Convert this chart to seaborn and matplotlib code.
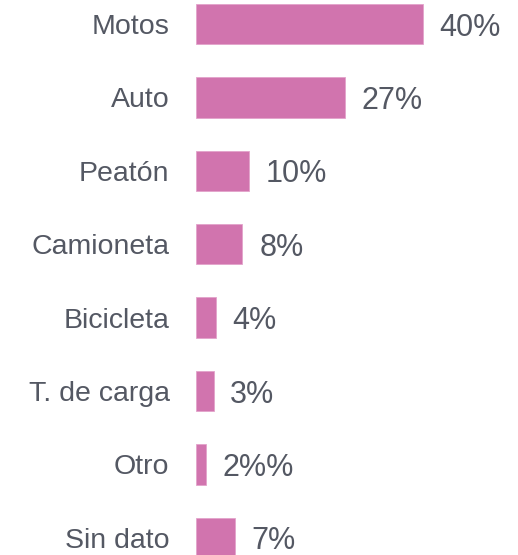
import matplotlib
matplotlib.use('Agg')
import matplotlib.pyplot as plt
import seaborn as sns
import pandas as pd

categories = ['Motos', 'Auto', 'Peatón', 'Camioneta', 'Bicicleta', 'T. de carga', 'Otro', 'Sin dato']
values = [40, 26.2, 9.4, 8.2, 3.5, 3.1, 1.8, 6.8]
value_labels = ['40%', '27%', '10%', '8%', '4%', '3%', '2%%', '7%']

sns.set_theme(style='white')
plt.rcParams['font.family'] = ['Liberation Sans', 'DejaVu Sans']

df = pd.DataFrame({'categoria': categories, 'valor': values})

W, H = 518, 555
fig = plt.figure(figsize=(W / 100, H / 100), dpi=100)
ax = fig.add_axes([196 / W, 0, 322 / W, 1])

sns.barplot(data=df, x='valor', y='categoria', orient='h', color='#D174AE',
            saturation=1, width=0.55, edgecolor='#E3A3CB', linewidth=0.6, ax=ax)

# etiquetas de valor a la derecha de cada barra
texts = ax.bar_label(ax.containers[0], labels=value_labels, padding=12,
                     fontsize=22, color='#545863')
for t in texts:
    t.set_verticalalignment('center_baseline')

ax.set_xlim(0, 56.8)
ax.set_ylim(7.234, -0.327)
ax.set_xlabel('')
ax.set_ylabel('')
ax.set_xticks([])
ax.tick_params(axis='y', length=0, pad=19, labelsize=20.5, labelcolor='#545863')
sns.despine(ax=ax, left=True, bottom=True)

fig.savefig('out.png', dpi=100)
